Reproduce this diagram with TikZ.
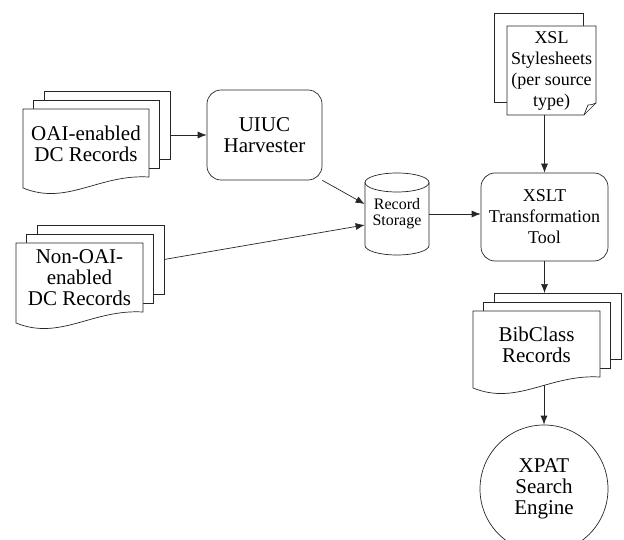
\documentclass[tikz,border=0pt]{standalone}
\usepackage{fontspec}
\setmainfont{Liberation Serif}
\usetikzlibrary{arrows.meta}

\newcommand{\bigtext}{\fontsize{21}{21}\selectfont}
\newcommand{\midtext}{\fontsize{18}{21}\selectfont}
\newcommand{\smalltext}{\fontsize{16}{16}\selectfont}

% stack of three record sheets: name, left, top, width, height, text
\newcommand{\docstack}[6]{%
  \node[sheet, anchor=north west, minimum width=#4pt, minimum height={(#5-11)*1pt}] (#1-3) at (#2+21,#3-18) {};
  \node[sheet, anchor=north west, minimum width=#4pt, minimum height={(#5-11)*1pt}] (#1-2) at (#2+10.5,#3-9) {};
  \draw[sheet] (#2,#3) -- ++(#4,0) -- ++(0,#5-11)
    .. controls +(-0.4*#4,-3) and +(0.35*#4,18) .. (#2,#3+#5) -- cycle;
  \node[label text] (#1) at (#2+#4/2,#3+#5/2-5) {#6};
  \coordinate (#1-foot) at (#2+0.57*#4,#3+#5-3);
}

\begin{document}
\begin{tikzpicture}[x=1pt, y=-1pt
    , line width=0.7pt, draw=black!85,
    sheet/.style={draw=black!85, fill=white, inner sep=0pt, outer sep=0pt},
    label text/.style={align=center, font=\bigtext, inner sep=0pt},
    proc/.style={draw=black!85, rounded corners=14pt, align=center, font=\bigtext, inner sep=0pt},
    arr/.style={draw=black!85, -{Latex[length=9pt,width=7pt]}}]
    \useasboundingbox (0,0) rectangle (624,540);
    \clip (0,0) rectangle (624,540);

    % sources
    \docstack{oai}{23}{109}{126}{79}{OAI-enabled\\DC Records}
    \docstack{nonoai}{16}{243}{127}{80}{Non-OAI-\\enabled\\DC Records}

    \node[proc, minimum width=115pt, minimum height=90pt] (harv) at (264.5,135) {UIUC\\Harvester};

    % record storage
    \node[align=center, font=\smalltext, inner sep=0pt, minimum width=64pt, minimum height=82pt] (store) at (397,214) {Record\\Storage};
    \draw (397,182.5) ellipse [x radius=32pt, y radius=9.5pt];
    \draw (365,182.5) -- (365,245.5) arc [start angle=180, end angle=360, x radius=32pt, y radius=9.5pt] -- (429,182.5);

    % stylesheets
    \node[sheet, anchor=north west, minimum width=89pt, minimum height=89pt] (xsl-2) at (494,13) {};
    \draw[sheet] (507,26) -- (596,26) -- (596,103) -- (584,115) -- (507,115) -- cycle;
    \draw (596,103) .. controls (591,105) .. (588,105) -- (584,115);
    \node[align=center, font=\midtext, inner sep=0pt, minimum width=89pt, minimum height=89pt] (xsl) at (551.5,70.5)
        {\fontsize{18}{19.5}\selectfont XSL\\Stylesheets\\(per source\\type)};

    \node[proc, font=\midtext, minimum width=127pt, minimum height=88pt] (xslt) at (544.5,217) {XSLT\\Transformation\\Tool};

    \docstack{bib}{473}{311}{127}{77}{BibClass\\Records}

    \node[draw=black!85, circle, minimum size=128pt, inner sep=0pt, align=center, font=\bigtext] (xpat) at (544,489) {XPAT\\Search\\Engine};

    % connectors
    \draw[arr] (oai-3.east |- harv.west) -- (harv.west);
    \draw[arr] (harv.south east) -- ([yshift=10pt]store.west);
    \draw[arr] (nonoai-3.east) -- ([yshift=-11pt]store.west);
    \draw[arr] (store.east) -- (store.east -| xslt.west);
    \draw[arr] (xslt.north |- xsl.south) -- (xslt.north);
    \draw[arr] (xslt.south) -- (xslt.south |- bib-3.north);
    \draw[arr] (xpat.north |- bib-foot) -- (xpat.north);
\end{tikzpicture}
\end{document}
